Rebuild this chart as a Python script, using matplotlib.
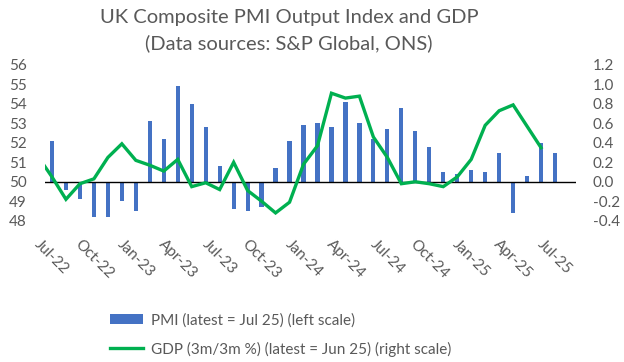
import matplotlib
matplotlib.use("Agg")
from matplotlib import pyplot as plt
from matplotlib.patches import Patch
from matplotlib.lines import Line2D
from matplotlib.transforms import ScaledTranslation
import matplotlib.ticker as mtick
import numpy as np

plt.rcParams['font.family'] = ['Lato', 'DejaVu Sans']

# PMI composite output index, Jul-22 .. Jul-25 (monthly)
pmi = [52.1, 49.6, 49.1, 48.2, 48.2, 49.0, 48.5, 53.1, 52.2, 54.9, 54.0, 52.8,
       50.8, 48.6, 48.5, 48.7, 50.7, 52.1, 52.9, 53.0, 52.8, 54.1, 53.0, 52.2,
       52.7, 53.8, 52.6, 51.8, 50.5, 50.4, 50.6, 50.5, 51.5, 48.4, 50.3, 52.0,
       51.5]

# GDP 3m/3m %, Jun-22 .. Jun-25 (first point sits left of the plot and is clipped)
gdp = [0.26, 0.05, -0.18, -0.02, 0.03, 0.25, 0.39, 0.22, 0.17, 0.11, 0.23,
       -0.05, -0.01, -0.08, 0.20, -0.09, -0.20, -0.32, -0.21, 0.18, 0.37,
       0.91, 0.86, 0.88, 0.46, 0.25, -0.02, 0.00, -0.02, -0.05, 0.05, 0.23,
       0.58, 0.73, 0.79, 0.57, 0.35]

tick_labels = ['Jul-22', 'Oct-22', 'Jan-23', 'Apr-23', 'Jul-23', 'Oct-23',
               'Jan-24', 'Apr-24', 'Jul-24', 'Oct-24', 'Jan-25', 'Apr-25',
               'Jul-25']

n_slots = 38  # one empty slot after Jul-25
grey = '#595959'
blue = '#4472C4'
green = '#00B050'

x_pmi = np.arange(len(pmi))
x_gdp = np.arange(len(gdp)) - 1

fig = plt.figure(figsize=(6.24, 3.62), dpi=100)
ax = fig.add_axes([45/624, 1 - 220.7/362, 531/624, 155.7/362])
ax2 = ax.twinx()

ax.bar(x_pmi, np.array(pmi) - 50, bottom=50, width=0.3, color=blue, zorder=2)
ax.axhline(50, color='black', lw=1, zorder=3)
ax2.plot(x_gdp, gdp, color=green, lw=2.4, solid_joinstyle='miter', zorder=4)

ax.set_xlim(-0.5, n_slots - 0.5)
ax.set_ylim(48, 56)
ax2.set_ylim(-0.4, 1.2)
ax.yaxis.set_major_locator(mtick.MultipleLocator(1))
ax2.yaxis.set_major_locator(mtick.MultipleLocator(0.2))
ax2.yaxis.set_major_formatter(mtick.FormatStrFormatter('%.1f'))

ax.set_xticks(np.arange(0, len(pmi), 3))
ax.set_xticklabels(tick_labels, rotation=-45, ha='center', va='top')
# nudge the slanted labels a little to the right
shift = ScaledTranslation(4/100, 0, fig.dpi_scale_trans)
for lab in ax.get_xticklabels():
    lab.set_transform(lab.get_transform() + shift)

for a in (ax, ax2):
    for s in a.spines.values():
        s.set_visible(False)
ax.tick_params(axis='both', length=0, labelsize=11, colors=grey)
ax.tick_params(axis='y', pad=13)
ax.tick_params(axis='x', pad=12)
ax2.tick_params(axis='y', length=0, labelsize=11, colors=grey, pad=12)

# put the line above the bars
ax.set_zorder(1)
ax2.set_zorder(2)
ax.patch.set_visible(False)

fig.text(0.463, 0.953, 'UK Composite PMI Output Index and GDP',
         ha='center', va='center', fontsize=14.5, color=grey)
fig.text(0.463, 0.88, '(Data sources: S&P Global, ONS)',
         ha='center', va='center', fontsize=14.5, color=grey)

handles = [Patch(facecolor=blue, edgecolor='none'),
           Line2D([0], [0], color=green, lw=2.4)]
labels = ['PMI (latest = Jul 25) (left scale)',
          'GDP (3m/3m %) (latest = Jun 25) (right scale)']
fig.legend(handles, labels, loc='center left', bbox_to_anchor=(0.154, 0.075),
           frameon=False, fontsize=11, labelcolor=grey, handlelength=2.2,
           handleheight=0.7, labelspacing=0.95, handletextpad=0.5)

fig.savefig('out.png', dpi=100)
